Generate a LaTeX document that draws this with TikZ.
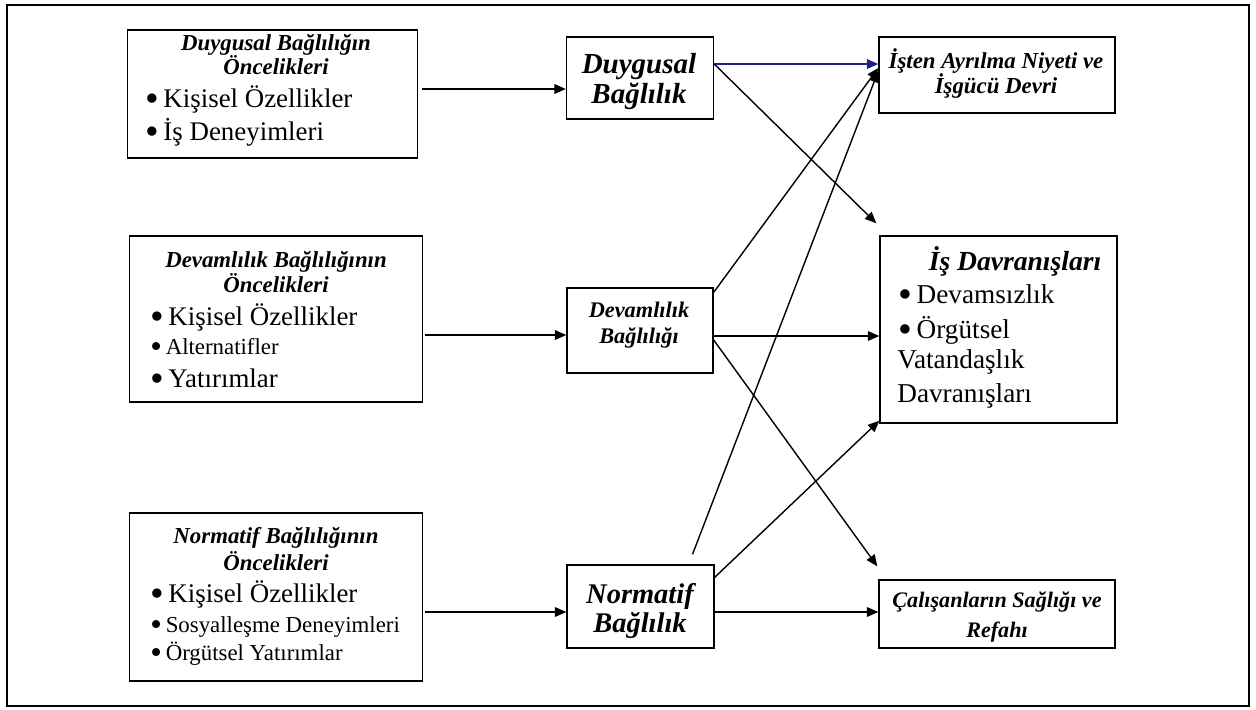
\documentclass[tikz,border=0pt]{standalone}
\usepackage{fontspec}
\setmainfont{Liberation Serif}
\usetikzlibrary{arrows.meta}
\definecolor{navyline}{RGB}{30,30,140}
\newcommand{\blt}{\smash{\raisebox{-0.17em}{\scalebox{1.45}{\textbullet}}}\,}
\tikzset{
  box/.style={draw, line width=0.8pt, inner sep=0pt},
  arr/.style={line width=0.8pt, -{Triangle[length=6.5pt,width=5.5pt]}},
  ttl/.style={anchor=base, inner sep=0pt, font=\bfseries\itshape\fontsize{13}{15}\selectfont},
  big/.style={anchor=base west, inner sep=0pt, font=\fontsize{15.3}{18}\selectfont},
  small/.style={anchor=base west, inner sep=0pt, font=\fontsize{13}{15}\selectfont},
}
\begin{document}
\begin{tikzpicture}[x=0.2mm,y=-0.2mm]
	\useasboundingbox (0,0) rectangle (1256,709);
	\draw[line width=1.6pt] (7,5) rectangle (1249,706);
	% antecedent boxes
	\node[box, minimum width=58mm, minimum height=25.6mm] (a1) at (272.5,94) {};
	\node[box, minimum width=58.6mm, minimum height=33.2mm] (a2) at (276,319) {};
	\node[box, minimum width=58.6mm, minimum height=33.6mm] (a3) at (276,597) {};
	\node[ttl] (a1t1) at (276,50) {Duygusal Bağlılığın};
	\node[ttl] (a1t2) at (276,74) {Öncelikleri};
	\node[big] (a1i1) at (145,107) {\blt Kişisel Özellikler};
	\node[big] (a1i2) at (145,140) {\blt İş Deneyimleri};
	\node[ttl] (a2t1) at (276,267) {Devamlılık Bağlılığının};
	\node[ttl] (a2t2) at (276,292) {Öncelikleri};
	\node[big] (a2i1) at (150,325) {\blt Kişisel Özellikler};
	\node[small] (a2i2) at (150,354) {\blt Alternatifler};
	\node[big] (a2i3) at (150,387) {\blt Yatırımlar};
	\node[ttl] (a3t1) at (276,543) {Normatif Bağlılığının};
	\node[ttl] (a3t2) at (276,570) {Öncelikleri};
	\node[big] (a3i1) at (150,602) {\blt Kişisel Özellikler};
	\node[small] (a3i2) at (150,632) {\blt Sosyalleşme Deneyimleri};
	\node[small] (a3i3) at (150,660) {\blt Örgütsel Yatırımlar};
	% commitment boxes
	\node[box, minimum width=29.4mm, minimum height=16.4mm] (b1) at (640,78) {};
	\node[box, minimum width=29.2mm, minimum height=17mm] (b2) at (640,330.5) {};
	\node[box, minimum width=29.4mm, minimum height=16.6mm] (b3) at (640.5,606.5) {};
	\node[ttl, font=\bfseries\itshape\fontsize{16.5}{20}\selectfont] (b1t1) at (639,73) {Duygusal};
	\node[ttl, font=\bfseries\itshape\fontsize{16.5}{20}\selectfont] (b1t2) at (639,103) {Bağlılık};
	\node[ttl, font=\bfseries\itshape\fontsize{12.7}{15}\selectfont] (b2t1) at (639,317) {Devamlılık};
	\node[ttl, font=\bfseries\itshape\fontsize{12.7}{15}\selectfont] (b2t2) at (639,343) {Bağlılığı};
	\node[ttl, font=\bfseries\itshape\fontsize{16.2}{20}\selectfont] (b3t1) at (640,603) {Normatif};
	\node[ttl, font=\bfseries\itshape\fontsize{16.2}{20}\selectfont] (b3t2) at (640,632) {Bağlılık};
	% outcome boxes
	\node[box, minimum width=47.2mm, minimum height=15.2mm] (c1) at (997,75) {};
	\node[box, minimum width=47.4mm, minimum height=37.4mm] (c2) at (998.5,329.5) {};
	\node[box, minimum width=47.2mm, minimum height=13.6mm] (c3) at (997,614) {};
	\node[ttl] (c1t1) at (996,68) {İşten Ayrılma Niyeti ve};
	\node[ttl] (c1t2) at (996,93) {İşgücü Devri};
	\node[ttl, font=\bfseries\itshape\fontsize{15.7}{19}\selectfont] (c2t) at (1015,270) {İş Davranışları};
	\node[big, font=\fontsize{15.5}{18}\selectfont] (c2i1) at (898,303) {\blt Devamsızlık};
	\node[big, font=\fontsize{15.5}{18}\selectfont] (c2i2) at (898,338) {\blt Örgütsel};
	\node[big, font=\fontsize{15.5}{18}\selectfont] (c2i3) at (897,368) {Vatandaşlık};
	\node[big, font=\fontsize{15.5}{18}\selectfont] (c2i4) at (897,402) {Davranışları};
	\node[ttl, font=\bfseries\itshape\fontsize{12.6}{15}\selectfont] (c3t1) at (997,607) {Çalışanların Sağlığı ve};
	\node[ttl, font=\bfseries\itshape\fontsize{12.6}{15}\selectfont] (c3t2) at (997,637) {Refahı};
	% arrows
	\draw[arr] ([xshift=0.8mm,yshift=1mm]a1.east) -- ([yshift=1mm]a1.east -| b1.west);
	\draw[arr] ([xshift=0.4mm,yshift=-3.2mm]a2.east) -- ([yshift=-3.2mm]a2.east -| b2.west);
	\draw[arr] ([xshift=0.4mm,yshift=-3mm]a3.east) -- ([yshift=-3mm]a3.east -| b3.west);
	\draw[arr, navyline] ([yshift=2.8mm]b1.east) -- ([yshift=2.8mm]b1.east -| c1.west);
	\draw[arr] ([yshift=2.8mm]b1.east) -- ([shift={(-0.6mm,2.4mm)}]c2.north west);
	\draw[arr] ([yshift=-1mm]b2.north east) -- ([yshift=1.4mm]c1.west);
	\draw[arr] ([yshift=-1.1mm]b2.east) -- ([yshift=-1.1mm]b2.east -| c2.west);
	\draw[arr] ([yshift=-1.9mm]b2.east) -- ([shift={(-0.2mm,2.6mm)}]c3.north west);
	\draw[arr] ([shift={(10.4mm,2mm)}]b3.north) -- ([yshift=0.8mm]c1.west);
	\draw[arr] ([yshift=-2.6mm]b3.north east) -- ([yshift=0.6mm]c2.south west);
	\draw[arr] ([yshift=-1.1mm]b3.east) -- ([yshift=-1.1mm]b3.east -| c3.west);
\end{tikzpicture}
\end{document}
